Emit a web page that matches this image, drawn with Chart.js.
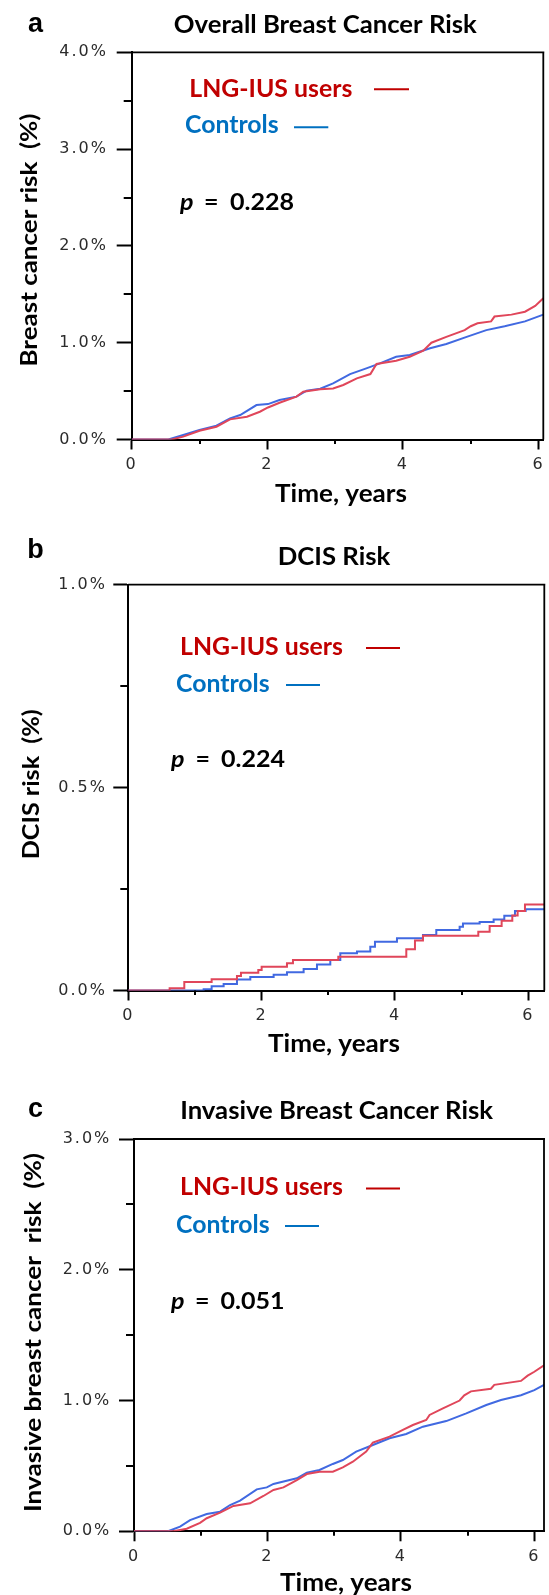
<!DOCTYPE html>
<html>
<head>
<meta charset="utf-8">
<title>LNG-IUS breast cancer risk</title>
<script src="https://cdn.jsdelivr.net/npm/chart.js@4.4.1/dist/chart.umd.min.js"></script>
<style>
html,body{margin:0;padding:0;background:#fff;}
#wrap{position:relative;width:549px;height:1595px;overflow:hidden;background:#fff;}
canvas{position:absolute;left:0;}
</style>
</head>
<body>
<div id="wrap">
<canvas id="ca" width="549" height="520" style="top:0px"></canvas>
<canvas id="cb" width="549" height="550" style="top:520px"></canvas>
<canvas id="cc" width="549" height="525" style="top:1070px"></canvas>
</div>
<script>
// ---------------- DATA ----------------
// Panel a: Overall breast cancer risk (cumulative %, time in years)
const timeLngA = [0, 0.59, 0.76, 1.0, 1.25, 1.45, 1.7, 1.89, 2.01, 2.18, 2.43, 2.53, 2.78, 2.97, 3.12, 3.32, 3.52, 3.61, 3.9, 4.1, 4.3, 4.42, 4.64, 4.91, 5.0, 5.1, 5.3, 5.35, 5.6, 5.8, 5.95, 6.07];
const riskLngA = [0, 0, 0.03, 0.09, 0.132, 0.208, 0.236, 0.287, 0.331, 0.38, 0.443, 0.494, 0.518, 0.528, 0.563, 0.632, 0.676, 0.78, 0.814, 0.855, 0.917, 1.0, 1.06, 1.13, 1.17, 1.2, 1.22, 1.27, 1.29, 1.32, 1.38, 1.46];
const timeCtrlA = [0, 0.54, 0.76, 1.0, 1.25, 1.45, 1.6, 1.84, 2.01, 2.18, 2.43, 2.58, 2.78, 2.97, 3.22, 3.46, 3.66, 3.9, 4.1, 4.4, 4.64, 4.94, 5.23, 5.5, 5.8, 6.07];
const riskCtrlA = [0, 0, 0.046, 0.098, 0.143, 0.219, 0.253, 0.356, 0.366, 0.408, 0.443, 0.505, 0.525, 0.58, 0.676, 0.735, 0.787, 0.855, 0.873, 0.942, 0.987, 1.06, 1.13, 1.17, 1.22, 1.29];

// Panel b: DCIS risk (step curves)
const timeLngB = [0, 0.62, 0.84, 1.25, 1.63, 1.69, 1.95, 2.0, 2.38, 2.47, 3.15, 4.17, 4.3, 4.42, 5.25, 5.42, 5.6, 5.76, 5.84, 5.95, 6.24];
const riskLngB = [0, 0.0054, 0.021, 0.0275, 0.0355, 0.0437, 0.0505, 0.0587, 0.0669, 0.075, 0.0834, 0.1015, 0.123, 0.1351, 0.145, 0.159, 0.172, 0.185, 0.196, 0.212, 0.212];
const timeCtrlB = [0, 0.98, 1.13, 1.25, 1.43, 1.63, 1.83, 2.18, 2.38, 2.63, 2.83, 3.03, 3.18, 3.43, 3.63, 3.7, 4.03, 4.42, 4.62, 4.97, 5.02, 5.27, 5.48, 5.64, 5.8, 5.96, 6.24];
const riskCtrlB = [0, 0, 0.0033, 0.0103, 0.016, 0.027, 0.033, 0.039, 0.0447, 0.053, 0.064, 0.0752, 0.0915, 0.096, 0.108, 0.12, 0.129, 0.137, 0.149, 0.157, 0.165, 0.169, 0.175, 0.184, 0.196, 0.2, 0.2];

// Panel c: Invasive breast cancer risk
const timeLngC = [0, 0.59, 0.79, 0.99, 1.09, 1.29, 1.49, 1.74, 1.94, 2.09, 2.24, 2.44, 2.59, 2.78, 2.98, 3.13, 3.28, 3.48, 3.58, 3.83, 4.03, 4.18, 4.38, 4.43, 4.63, 4.88, 4.95, 5.05, 5.35, 5.4, 5.8, 5.9, 6.0, 6.145];
const riskLngC = [0, 0, 0.02, 0.065, 0.1, 0.143, 0.194, 0.214, 0.27, 0.316, 0.336, 0.392, 0.438, 0.456, 0.456, 0.489, 0.532, 0.609, 0.678, 0.724, 0.775, 0.813, 0.851, 0.89, 0.94, 1.0, 1.04, 1.07, 1.09, 1.12, 1.15, 1.19, 1.22, 1.27];
const timeCtrlC = [0, 0.51, 0.69, 0.84, 1.09, 1.29, 1.44, 1.59, 1.84, 1.99, 2.09, 2.44, 2.59, 2.78, 2.98, 3.13, 3.33, 3.58, 3.83, 4.08, 4.33, 4.68, 4.98, 5.28, 5.5, 5.8, 6.0, 6.145];
const riskCtrlC = [0, 0, 0.036, 0.086, 0.132, 0.15, 0.201, 0.234, 0.321, 0.336, 0.362, 0.405, 0.449, 0.469, 0.515, 0.545, 0.609, 0.66, 0.711, 0.744, 0.8, 0.843, 0.902, 0.966, 1.004, 1.04, 1.08, 1.12];

// Tick labels
const xTickValues = [0, 2, 4, 6];
const xTickLabels = ['0', '2', '4', '6'];
const xMinorTicks = [1, 3, 5];
const yTickValuesA = [0, 1, 2, 3, 4];
const yTickLabelsA = ['0.0%', '1.0%', '2.0%', '3.0%', '4.0%'];
const yTickValuesB = [0, 0.5, 1];
const yTickLabelsB = ['0.0%', '0.5%', '1.0%'];
const yTickValuesC = [0, 1, 2, 3];
const yTickLabelsC = ['0.0%', '1.0%', '2.0%', '3.0%'];

// Texts
const seriesNames = ['LNG-IUS users', 'Controls'];
const panelLetters = ['a', 'b', 'c'];
const panelTitles = ['Overall Breast Cancer Risk', 'DCIS Risk', 'Invasive Breast Cancer Risk'];
const yTitles = ['Breast cancer risk  (%)', 'DCIS risk  (%)', 'Invasive breast cancer  risk  (%)'];
const xTitle = 'Time, years';
const pValues = ['0.228', '0.224', '0.051'];

// ---------------- STYLE / LAYOUT ----------------
const RED_CURVE = '#e0465a';
const BLUE_CURVE = '#4169e1';
const RED_TEXT = '#c00000';
const BLUE_TEXT = '#0070c0';
const TF = 'Lato, "Open Sans", "Noto Sans", sans-serif';
const CAP = 0.717; // Lato cap-height ratio
const TICK_FONT = 'DejaVu Sans';

function pts(xs, ys) { return xs.map((x, i) => ({ x: x, y: ys[i] })); }
function findIdx(arr, v) { return arr.findIndex(a => Math.abs(a - v) < 1e-9); }

const panels = [
  {
    id: 'ca', idx: 0, top: 0, plotLeft: 131.7, plotRight: 543.3, plotTop: 52.3, plotBottom: 439.5,
    xMax: 6.07, yMax: 4, yStep: 0.5, yVals: yTickValuesA, yLabs: yTickLabelsA, yMinor: [0.5, 1.5, 2.5, 3.5],
    yPad: 8.7, xPad: 6.0, stepped: false,
    tL: timeLngA, vL: riskLngA, tC: timeCtrlA, vC: riskCtrlA,
    letter: { x: 35.5, base: 32 }, title: { cx: 325.3, base: 32.5 },
    lng: { x: 189.3, base: 96.7 }, lngLine: { x1: 374, x2: 409, y: 89.3 },
    ctl: { x: 185, base: 133 }, ctlLine: { x1: 294, x2: 328.3, y: 127.3 },
    p: { px: 180, eqx: 204, numx: 230, base: 210 },
    yt: { cx: 29, cy: 240, len: 253 }, xt: { cx: 341, base: 501.5 }
  },
  {
    id: 'cb', idx: 1, top: 520, plotLeft: 128.3, plotRight: 544.3, plotTop: 584.7, plotBottom: 990.5,
    xMax: 6.24, yMax: 1, yStep: 0.25, yVals: yTickValuesB, yLabs: yTickLabelsB, yMinor: [0.25, 0.75],
    yPad: 6.3, xPad: 5.8, stepped: true,
    tL: timeLngB, vL: riskLngB, tC: timeCtrlB, vC: riskCtrlB,
    letter: { x: 35.5, base: 558 }, title: { cx: 334, base: 564.5 },
    lng: { x: 180, base: 655 }, lngLine: { x1: 366, x2: 400, y: 648 },
    ctl: { x: 176, base: 691.5 }, ctlLine: { x1: 286, x2: 320, y: 685 },
    p: { px: 171, eqx: 195.5, numx: 221, base: 766.5 },
    yt: { cx: 31, cy: 784.3, len: 150 }, xt: { cx: 334, base: 1052 }
  },
  {
    id: 'cc', idx: 2, top: 1070, plotLeft: 134, plotRight: 544, plotTop: 1139, plotBottom: 1531.3,
    xMax: 6.145, yMax: 3, yStep: 0.5, yVals: yTickValuesC, yLabs: yTickLabelsC, yMinor: [0.5, 1.5, 2.5],
    yPad: 7.7, xPad: 5.9, stepped: false,
    tL: timeLngC, vL: riskLngC, tC: timeCtrlC, vC: riskCtrlC,
    letter: { x: 35.5, base: 1117 }, title: { cx: 336.6, base: 1119 },
    lng: { x: 180, base: 1195 }, lngLine: { x1: 366, x2: 400, y: 1188.6 },
    ctl: { x: 176, base: 1232.5 }, ctlLine: { x1: 285, x2: 319, y: 1226 },
    p: { px: 171, eqx: 195, numx: 220.5, base: 1309 },
    yt: { cx: 33, cy: 1332.5, len: 359 }, xt: { cx: 346, base: 1590.7 }
  }
];

const boldF = s => `bold ${s}px ${TF}`;

// returns {size, sx}: font size from cap height, horizontal scale to reach target width
function fitText(ctx, text, capH, targetW, fontFn) {
  const size = capH / CAP;
  ctx.font = fontFn(size);
  const w = ctx.measureText(text).width;
  return { size: size, sx: targetW / w };
}
function drawScaled(ctx, text, x, y, sx, align) {
  ctx.save();
  ctx.translate(x, y);
  ctx.scale(sx, 1);
  ctx.textAlign = align;
  ctx.fillText(text, 0, 0);
  ctx.restore();
}

function panelPlugin(P) {
  return {
    id: 'panel_' + P.id,
    beforeDraw(chart) { chart.ctx.letterSpacing = '2px'; },
    afterDraw(chart) {
      const ctx = chart.ctx;
      const T = P.top;
      ctx.save();
      ctx.letterSpacing = '0px';
      const a = chart.chartArea;
      const xs = chart.scales.x, ys = chart.scales.y;
      // frame: top and right border
      ctx.strokeStyle = '#000';
      ctx.lineWidth = 1.8;
      ctx.beginPath();
      ctx.moveTo(a.left, a.top); ctx.lineTo(a.right + 1, a.top);
      ctx.moveTo(a.right, a.top); ctx.lineTo(a.right, a.bottom);
      ctx.stroke();
      // minor ticks
      ctx.lineWidth = 2;
      P.yMinor.forEach(v => {
        const y = Math.round(ys.getPixelForValue(v));
        ctx.beginPath(); ctx.moveTo(a.left - 8, y); ctx.lineTo(a.left, y); ctx.stroke();
      });
      xMinorTicks.forEach(v => {
        const x = Math.round(xs.getPixelForValue(v));
        ctx.beginPath(); ctx.moveTo(x, a.bottom); ctx.lineTo(x, a.bottom + 4.5); ctx.stroke();
      });
      ctx.textBaseline = 'alphabetic';
      // panel letter
      ctx.fillStyle = '#000';
      ctx.textAlign = 'center';
      ctx.font = 'bold 27px "Liberation Sans", Arial, sans-serif';
      ctx.fillText(panelLetters[P.idx], P.letter.x, P.letter.base - T);
      // title (same size for all panels)
      const tf = fitText(ctx, panelTitles[0], 17.3, 303, boldF);
      ctx.font = boldF(tf.size);
      drawScaled(ctx, panelTitles[P.idx], P.title.cx, P.title.base - T, tf.sx, 'center');
      // legend texts
      const lf = fitText(ctx, seriesNames[0], 18.0, 163, boldF);
      ctx.font = boldF(lf.size);
      ctx.fillStyle = RED_TEXT;
      drawScaled(ctx, seriesNames[0], P.lng.x, P.lng.base - T, lf.sx, 'left');
      ctx.fillStyle = BLUE_TEXT;
      drawScaled(ctx, seriesNames[1], P.ctl.x, P.ctl.base - T, lf.sx, 'left');
      ctx.lineWidth = 2;
      ctx.strokeStyle = RED_TEXT;
      ctx.beginPath(); ctx.moveTo(P.lngLine.x1, P.lngLine.y - T); ctx.lineTo(P.lngLine.x2, P.lngLine.y - T); ctx.stroke();
      ctx.strokeStyle = BLUE_TEXT;
      ctx.beginPath(); ctx.moveTo(P.ctlLine.x1, P.ctlLine.y - T); ctx.lineTo(P.ctlLine.x2, P.ctlLine.y - T); ctx.stroke();
      // p value
      const pf = fitText(ctx, pValues[0], 16.7, 64, boldF);
      ctx.fillStyle = '#000';
      ctx.font = `italic bold ${pf.size}px ${TF}`;
      drawScaled(ctx, 'p', P.p.px, P.p.base - T, pf.sx, 'left');
      ctx.font = boldF(pf.size);
      drawScaled(ctx, '=', P.p.eqx, P.p.base - T, pf.sx, 'left');
      drawScaled(ctx, pValues[P.idx], P.p.numx, P.p.base - T, pf.sx, 'left');
      // x title
      const xf = fitText(ctx, xTitle, 17.3, 132, boldF);
      ctx.font = boldF(xf.size);
      drawScaled(ctx, xTitle, P.xt.cx, P.xt.base - T, xf.sx, 'center');
      // y title (rotated)
      const yf = fitText(ctx, yTitles[P.idx], 17.0, P.yt.len, boldF);
      ctx.save();
      ctx.translate(P.yt.cx, P.yt.cy - T);
      ctx.rotate(-Math.PI / 2);
      ctx.scale(yf.sx, 1);
      ctx.font = boldF(yf.size);
      ctx.textAlign = 'center';
      ctx.textBaseline = 'middle';
      ctx.fillText(yTitles[P.idx], 0, 0);
      ctx.restore();
      ctx.restore();
    }
  };
}

function makeChart(P) {
  const canvas = document.getElementById(P.id);
  const H = canvas.height;
  const T = P.top;
  return new Chart(canvas, {
    type: 'line',
    data: {
      datasets: [
        { label: seriesNames[0], data: pts(P.tL, P.vL), borderColor: RED_CURVE, borderWidth: 2, pointRadius: 0, stepped: P.stepped, tension: 0, fill: false },
        { label: seriesNames[1], data: pts(P.tC, P.vC), borderColor: BLUE_CURVE, borderWidth: 2, pointRadius: 0, stepped: P.stepped, tension: 0, fill: false }
      ]
    },
    options: {
      responsive: false,
      animation: false,
      devicePixelRatio: 1,
      parsing: false,
      layout: { padding: { left: 0, right: 549 - P.plotRight, top: P.plotTop - T, bottom: 0 } },
      plugins: { legend: { display: false }, tooltip: { enabled: false }, title: { display: false } },
      scales: {
        x: {
          type: 'linear', min: 0, max: P.xMax, position: 'bottom',
          ticks: {
            stepSize: 1, includeBounds: false, autoSkip: false, maxRotation: 0, minRotation: 0,
            padding: P.xPad, color: '#2b2b2b', font: { family: TICK_FONT, size: 16 },
            callback: v => { const i = findIdx(xTickValues, v); return i >= 0 ? xTickLabels[i] : ''; }
          },
          grid: {
            display: true, drawOnChartArea: false, drawTicks: true, tickLength: 10, tickWidth: 2,
            tickColor: c => (c.tick && findIdx(xTickValues, c.tick.value) >= 0) ? '#000' : 'rgba(0,0,0,0)'
          },
          border: { display: true, color: '#000', width: 2 },
          afterFit: s => { s.height = H - (P.plotBottom - T); s.paddingLeft = 0; s.paddingRight = 0; }
        },
        y: {
          type: 'linear', min: 0, max: P.yMax, position: 'left',
          ticks: {
            stepSize: P.yStep, includeBounds: false, autoSkip: false,
            padding: P.yPad, color: '#2b2b2b', font: { family: TICK_FONT, size: 16 },
            callback: v => { const i = findIdx(P.yVals, v); return i >= 0 ? P.yLabs[i] : ''; }
          },
          grid: {
            display: true, drawOnChartArea: false, drawTicks: true, tickLength: 15, tickWidth: 2,
            tickColor: c => (c.tick && findIdx(P.yVals, c.tick.value) >= 0) ? '#000' : 'rgba(0,0,0,0)'
          },
          border: { display: true, color: '#000', width: 2 },
          afterFit: s => { s.width = P.plotLeft; s.paddingTop = 0; s.paddingBottom = 0; }
        }
      }
    },
    plugins: [panelPlugin(P)]
  });
}

panels.forEach(makeChart);
</script>
</body>
</html>
